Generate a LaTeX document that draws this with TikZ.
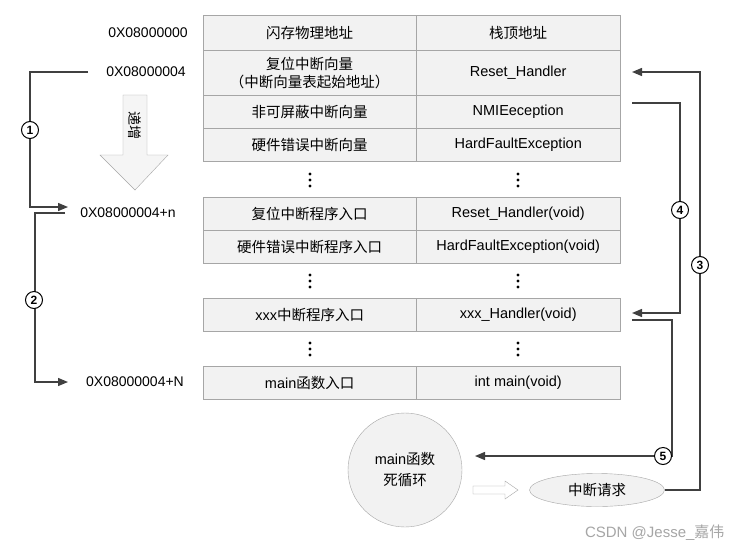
\documentclass[tikz,border=0pt]{standalone}
\usepackage{fontspec}
\setmainfont{Liberation Sans}
\newfontfamily\cjk{Noto Sans CJK SC}
\usetikzlibrary{shapes.geometric,arrows.meta,shapes.arrows}
\begin{document}
\begin{tikzpicture}[x=1pt,y=-1pt,
 cell/.style={draw=gray!70,fill=gray!10,minimum height=#1,minimum width=213pt,inner sep=0,font=\cjk\fontsize{14.5}{18}\selectfont,align=center,anchor=north west},
 cell/.default=33pt,
 addr/.style={font=\fontsize{14}{16}\selectfont},
 line/.style={draw=black!75,line width=1.3pt},
 arr/.style={line,-{Triangle[length=10pt,width=8pt]}},
 num/.style={circle,draw=black,line width=1pt,fill=white,inner sep=0,minimum size=17pt,font=\bfseries\fontsize{12}{12}\selectfont},
 dots/.style={inner sep=0,minimum height=16pt,minimum width=4pt,path picture={\fill (path picture bounding box.center) circle (1.6pt) ++(0,6pt) circle (1.6pt) ++(0,-12pt) circle(1.6pt);}}]
\useasboundingbox (0,0) rectangle (741,552);
\fill[white] (0,0) rectangle (741,552);
\node[cell=35pt] (a1) at (203,15) {闪存物理地址};
\node[cell=35pt,minimum width=204pt] (b1) at (416,15) {栈顶地址};
\node[cell=45pt] (a2) at (203,50) {复位中断向量\\（中断向量表起始地址）};
\node[cell=45pt,minimum width=204pt] (b2) at (416,50) {\rmfamily Reset\_Handler};
\node[cell] (a3) at (203,95) {非可屏蔽中断向量};
\node[cell,minimum width=204pt] (b3) at (416,95) {\rmfamily NMIEeception};
\node[cell] (a4) at (203,128) {硬件错误中断向量};
\node[cell,minimum width=204pt] (b4) at (416,128) {\rmfamily HardFaultException};
\node[dots] (d1) at (310,180) {};
\node[dots] (d2) at (518,180) {};
\node[cell] (a5) at (203,197) {复位中断程序入口};
\node[cell,minimum width=204pt] (b5) at (416,197) {\rmfamily Reset\_Handler(void)};
\node[cell] (a6) at (203,230) {硬件错误中断程序入口};
\node[cell,minimum width=204pt] (b6) at (416,230) {\rmfamily HardFaultException(void)};
\node[dots] (d3) at (310,281) {};
\node[dots] (d4) at (518,281) {};
\node[cell] (a7) at (203,298) {{\rmfamily xxx}中断程序入口};
\node[cell,minimum width=204pt] (b7) at (416,298) {\rmfamily xxx\_Handler(void)};
\node[dots] (d5) at (310,349) {};
\node[dots] (d6) at (518,349) {};
\node[cell] (a8) at (203,366) {{\rmfamily main}函数入口};
\node[cell,minimum width=204pt] (b8) at (416,366) {\rmfamily int main(void)};
\node[addr] (m0) at (148,33) {0X08000000};
\node[addr] (m1) at (146,72) {0X08000004};
\node[addr] (m2) at (128,213) {0X08000004+n};
\node[addr] (m3) at (135,382) {0X08000004+N};
\coordinate (m1w) at (88,72);
\coordinate (m2in) at (68,207);
\coordinate (m2w) at (65,213);
\coordinate (m3in) at (68,382);
\draw[draw=gray!70,fill=gray!8] (123,95) -- (147,95) -- (147,155) -- (168,155) -- (135,190) -- (100,155) -- (123,155) -- cycle;
\node[rotate=-90,font=\cjk\fontsize{14}{15}\selectfont] (inc) at (135,125) {递增};
\draw[arr] (m1w) -- (30,72) -- (30,207) -- (m2in);
\node[num] (n1) at (30,130) {1};
\draw[arr] (m2w) -- (35,213) -- (35,382) -- (m3in);
\node[num] (n2) at (34,300) {2};
\node[circle,draw=gray!70,fill=gray!10,minimum size=114pt,align=center,inner sep=0,font=\cjk\fontsize{14.5}{21}\selectfont] (mc) at (405,470) {{\rmfamily main}函数\\死循环};
\node[ellipse,draw=gray!70,fill=gray!10,minimum width=135pt,minimum height=33pt,inner sep=0,font=\cjk\fontsize{14.5}{15}\selectfont] (ir) at (597,490) {中断请求};
\draw[draw=gray!70,fill=white] (473,486) -- (505,486) -- (505,481) -- (518,490) -- (505,499) -- (505,494) -- (473,494) -- cycle;
\coordinate (r2) at (632,72);
\coordinate (r3) at (632,103);
\coordinate (r7a) at (632,313);
\coordinate (r7b) at (632,320);
\coordinate (mcr) at (475,456);
\draw[arr] (ir.east) -- (700,490) -- (700,72) -- (r2);
\node[num] (n3) at (700,265) {3};
\draw[arr] (r3) -- (680,103) -- (680,313) -- (r7a);
\node[num] (n4) at (680,210) {4};
\draw[arr] (r7b) -- (672,320) -- (672,456) -- (mcr);
\node[num] (n5) at (663,456) {5};
\node[text=gray!70,font=\fontsize{15}{15}\selectfont,anchor=east] (wm) at (728,533) {CSDN @Jesse\_{\cjk 嘉伟}};
\end{tikzpicture}
\end{document}
